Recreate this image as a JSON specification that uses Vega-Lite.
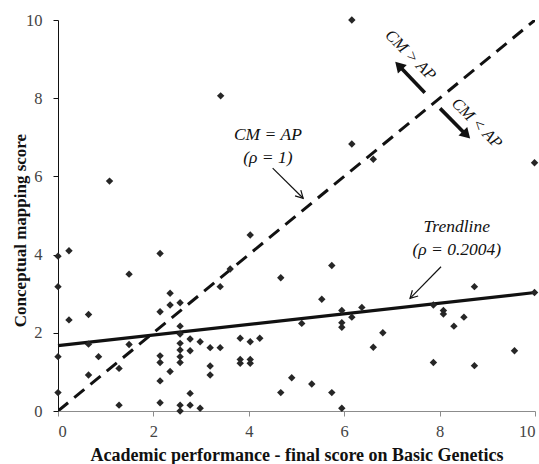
{
  "$schema": "https://vega.github.io/schema/vega-lite/v6.json",
  "autosize": "none",
  "width": 477,
  "height": 391,
  "padding": {"left": 58, "top": 20, "right": 4, "bottom": 53},
  "background": "white",
  "config": {
    "view": {"stroke": null},
    "font": "Liberation Serif",
    "axis": {"grid": false, "labelFont": "Liberation Serif", "labelFontSize": 16.5, "labelColor": "#444444", "titleFont": "Liberation Serif", "titleFontSize": 17, "titleFontWeight": "bold", "titleColor": "#111111", "tickSize": 5, "labelPadding": 7}
  },
  "datasets": {
    "points": [
      {"ap": 0, "cm": 3.96}, {"ap": 0, "cm": 3.18}, {"ap": 0, "cm": 1.39}, {"ap": 0, "cm": 0.47},
      {"ap": 0.23, "cm": 4.10}, {"ap": 0.23, "cm": 2.33},
      {"ap": 0.64, "cm": 2.47}, {"ap": 0.64, "cm": 1.71}, {"ap": 0.64, "cm": 0.92},
      {"ap": 0.85, "cm": 1.39},
      {"ap": 1.08, "cm": 5.88},
      {"ap": 1.28, "cm": 1.09}, {"ap": 1.28, "cm": 0.15},
      {"ap": 1.49, "cm": 3.50}, {"ap": 1.49, "cm": 1.70},
      {"ap": 2.14, "cm": 4.03}, {"ap": 2.14, "cm": 2.54}, {"ap": 2.14, "cm": 1.41}, {"ap": 2.14, "cm": 1.24}, {"ap": 2.14, "cm": 0.77}, {"ap": 2.14, "cm": 0.21},
      {"ap": 2.35, "cm": 3.01}, {"ap": 2.35, "cm": 2.71}, {"ap": 2.35, "cm": 1.01},
      {"ap": 2.56, "cm": 2.77}, {"ap": 2.56, "cm": 2.17}, {"ap": 2.56, "cm": 1.97}, {"ap": 2.56, "cm": 1.73}, {"ap": 2.56, "cm": 1.56}, {"ap": 2.56, "cm": 1.39}, {"ap": 2.56, "cm": 1.24}, {"ap": 2.56, "cm": 0.15}, {"ap": 2.56, "cm": 0},
      {"ap": 2.77, "cm": 1.84}, {"ap": 2.77, "cm": 1.54}, {"ap": 2.77, "cm": 0.45}, {"ap": 2.77, "cm": 0.15},
      {"ap": 2.98, "cm": 1.77}, {"ap": 2.98, "cm": 0.07},
      {"ap": 3.19, "cm": 1.62}, {"ap": 3.19, "cm": 1.15}, {"ap": 3.19, "cm": 0.92},
      {"ap": 3.40, "cm": 1.62}, {"ap": 3.40, "cm": 3.18},
      {"ap": 3.41, "cm": 8.06},
      {"ap": 3.61, "cm": 3.63},
      {"ap": 3.82, "cm": 1.86}, {"ap": 3.82, "cm": 1.32}, {"ap": 3.82, "cm": 1.22},
      {"ap": 4.03, "cm": 4.50}, {"ap": 4.03, "cm": 1.77}, {"ap": 4.03, "cm": 1.32}, {"ap": 4.03, "cm": 1.22},
      {"ap": 4.23, "cm": 1.86},
      {"ap": 4.67, "cm": 3.41}, {"ap": 4.67, "cm": 0.47},
      {"ap": 4.90, "cm": 0.85},
      {"ap": 5.11, "cm": 2.24},
      {"ap": 5.32, "cm": 0.69},
      {"ap": 5.53, "cm": 2.86},
      {"ap": 5.74, "cm": 3.72}, {"ap": 5.74, "cm": 0.47},
      {"ap": 5.95, "cm": 2.57}, {"ap": 5.95, "cm": 2.26}, {"ap": 5.95, "cm": 2.14}, {"ap": 5.95, "cm": 0.07},
      {"ap": 6.16, "cm": 10.0}, {"ap": 6.16, "cm": 6.83}, {"ap": 6.16, "cm": 2.40},
      {"ap": 6.37, "cm": 2.65},
      {"ap": 6.61, "cm": 6.44}, {"ap": 6.61, "cm": 1.63},
      {"ap": 6.81, "cm": 2.0},
      {"ap": 7.87, "cm": 2.71}, {"ap": 7.87, "cm": 1.24},
      {"ap": 8.08, "cm": 2.57}, {"ap": 8.08, "cm": 2.48},
      {"ap": 8.30, "cm": 2.17},
      {"ap": 8.51, "cm": 2.40},
      {"ap": 8.73, "cm": 3.18}, {"ap": 8.73, "cm": 1.16},
      {"ap": 9.57, "cm": 1.54},
      {"ap": 9.99, "cm": 6.35}, {"ap": 9.99, "cm": 3.03}
    ],
    "identity": [{"ap": 0, "cm": 0}, {"ap": 10, "cm": 10}],
    "trend": [{"ap": 0, "cm": 1.67}, {"ap": 10, "cm": 3.03}],
    "labels": [
      {"ap": 4.40, "cm": 7.06, "text": "CM = AP"},
      {"ap": 4.40, "cm": 6.47, "text": "(ρ = 1)"},
      {"ap": 8.36, "cm": 4.70, "text": "Trendline"},
      {"ap": 8.36, "cm": 4.12, "text": "(ρ = 0.2004)"}
    ],
    "rotlabels": [
      {"ap": 7.39, "cm": 9.10, "text": "CM > AP"},
      {"ap": 8.78, "cm": 7.36, "text": "CM < AP"}
    ],
    "arrows": [
      {"kind": "thinA", "ap": 4.50, "cm": 6.21, "ap2": 5.14, "cm2": 5.44},
      {"kind": "thinB", "ap": 8.03, "cm": 3.69, "ap2": 7.38, "cm2": 2.88},
      {"kind": "thickA", "ap": 7.69, "cm": 8.14, "ap2": 7.14, "cm2": 8.84},
      {"kind": "thickB", "ap": 8.01, "cm": 7.74, "ap2": 8.56, "cm2": 7.06}
    ],
    "heads": [
      {"kind": "thinA", "ap": 5.14, "cm": 5.44},
      {"kind": "thinB", "ap": 7.38, "cm": 2.88},
      {"kind": "thickA", "ap": 7.07, "cm": 8.93},
      {"kind": "thickB", "ap": 8.64, "cm": 6.97}
    ]
  },
  "encoding": {
    "x": {"field": "ap", "type": "quantitative", "scale": {"domain": [0, 10], "nice": false},
      "axis": {"values": [0, 2, 4, 6, 8, 10], "title": "Academic performance - final score on Basic Genetics", "domainColor": "#8c8c8c", "tickColor": "#8c8c8c", "titlePadding": 7, "titleFontSize": 18}},
    "y": {"field": "cm", "type": "quantitative", "scale": {"domain": [0, 10], "nice": false},
      "axis": {"values": [0, 2, 4, 6, 8, 10], "title": "Conceptual mapping score", "domainColor": "#111111", "tickColor": "#111111", "labelPadding": 11, "titleX": -38, "titleY": 210, "titleBaseline": "middle", "titleAngle": -90, "titleAlign": "center"}}
  },
  "layer": [
    {"data": {"name": "identity"}, "mark": {"type": "line", "color": "#111111", "strokeWidth": 3, "strokeDash": [13, 8], "clip": true}},
    {"data": {"name": "trend"}, "mark": {"type": "line", "color": "#111111", "strokeWidth": 3.2}},
    {"data": {"name": "points"}, "mark": {"type": "point", "shape": "diamond", "filled": true, "size": 55, "color": "#262626", "opacity": 1}},
    {"data": {"name": "labels"}, "mark": {"type": "text", "font": "Liberation Serif", "fontStyle": "italic", "fontSize": 17.5, "color": "#111111", "align": "center", "baseline": "middle"},
      "encoding": {"text": {"field": "text"}}},
    {"data": {"name": "rotlabels"}, "mark": {"type": "text", "font": "Liberation Serif", "fontStyle": "italic", "fontSize": 16.5, "color": "#111111", "align": "center", "baseline": "middle", "angle": 45},
      "encoding": {"text": {"field": "text"}}},
    {"data": {"name": "arrows"}, "transform": [{"filter": "datum.kind === 'thinA' || datum.kind === 'thinB'"}],
      "mark": {"type": "rule", "color": "#111111", "strokeWidth": 1.2},
      "encoding": {"x2": {"field": "ap2"}, "y2": {"field": "cm2"}}},
    {"data": {"name": "arrows"}, "transform": [{"filter": "datum.kind === 'thickA' || datum.kind === 'thickB'"}],
      "mark": {"type": "rule", "color": "#111111", "strokeWidth": 3.6},
      "encoding": {"x2": {"field": "ap2"}, "y2": {"field": "cm2"}}},
    {"data": {"name": "heads"}, "transform": [{"filter": "datum.kind === 'thinA'"}],
      "mark": {"type": "point", "shape": "M-0.55,1L0,0L0.55,1", "filled": false, "size": 220, "stroke": "#111111", "strokeWidth": 1.2, "opacity": 1, "angle": 135}},
    {"data": {"name": "heads"}, "transform": [{"filter": "datum.kind === 'thinB'"}],
      "mark": {"type": "point", "shape": "M-0.55,1L0,0L0.55,1", "filled": false, "size": 220, "stroke": "#111111", "strokeWidth": 1.2, "opacity": 1, "angle": 225}},
    {"data": {"name": "heads"}, "transform": [{"filter": "datum.kind === 'thickA'"}],
      "mark": {"type": "point", "shape": "M0,0L-0.6,1L0.6,1Z", "filled": true, "size": 420, "color": "#111111", "opacity": 1, "angle": 316}},
    {"data": {"name": "heads"}, "transform": [{"filter": "datum.kind === 'thickB'"}],
      "mark": {"type": "point", "shape": "M0,0L-0.6,1L0.6,1Z", "filled": true, "size": 420, "color": "#111111", "opacity": 1, "angle": 135}}
  ]
}
